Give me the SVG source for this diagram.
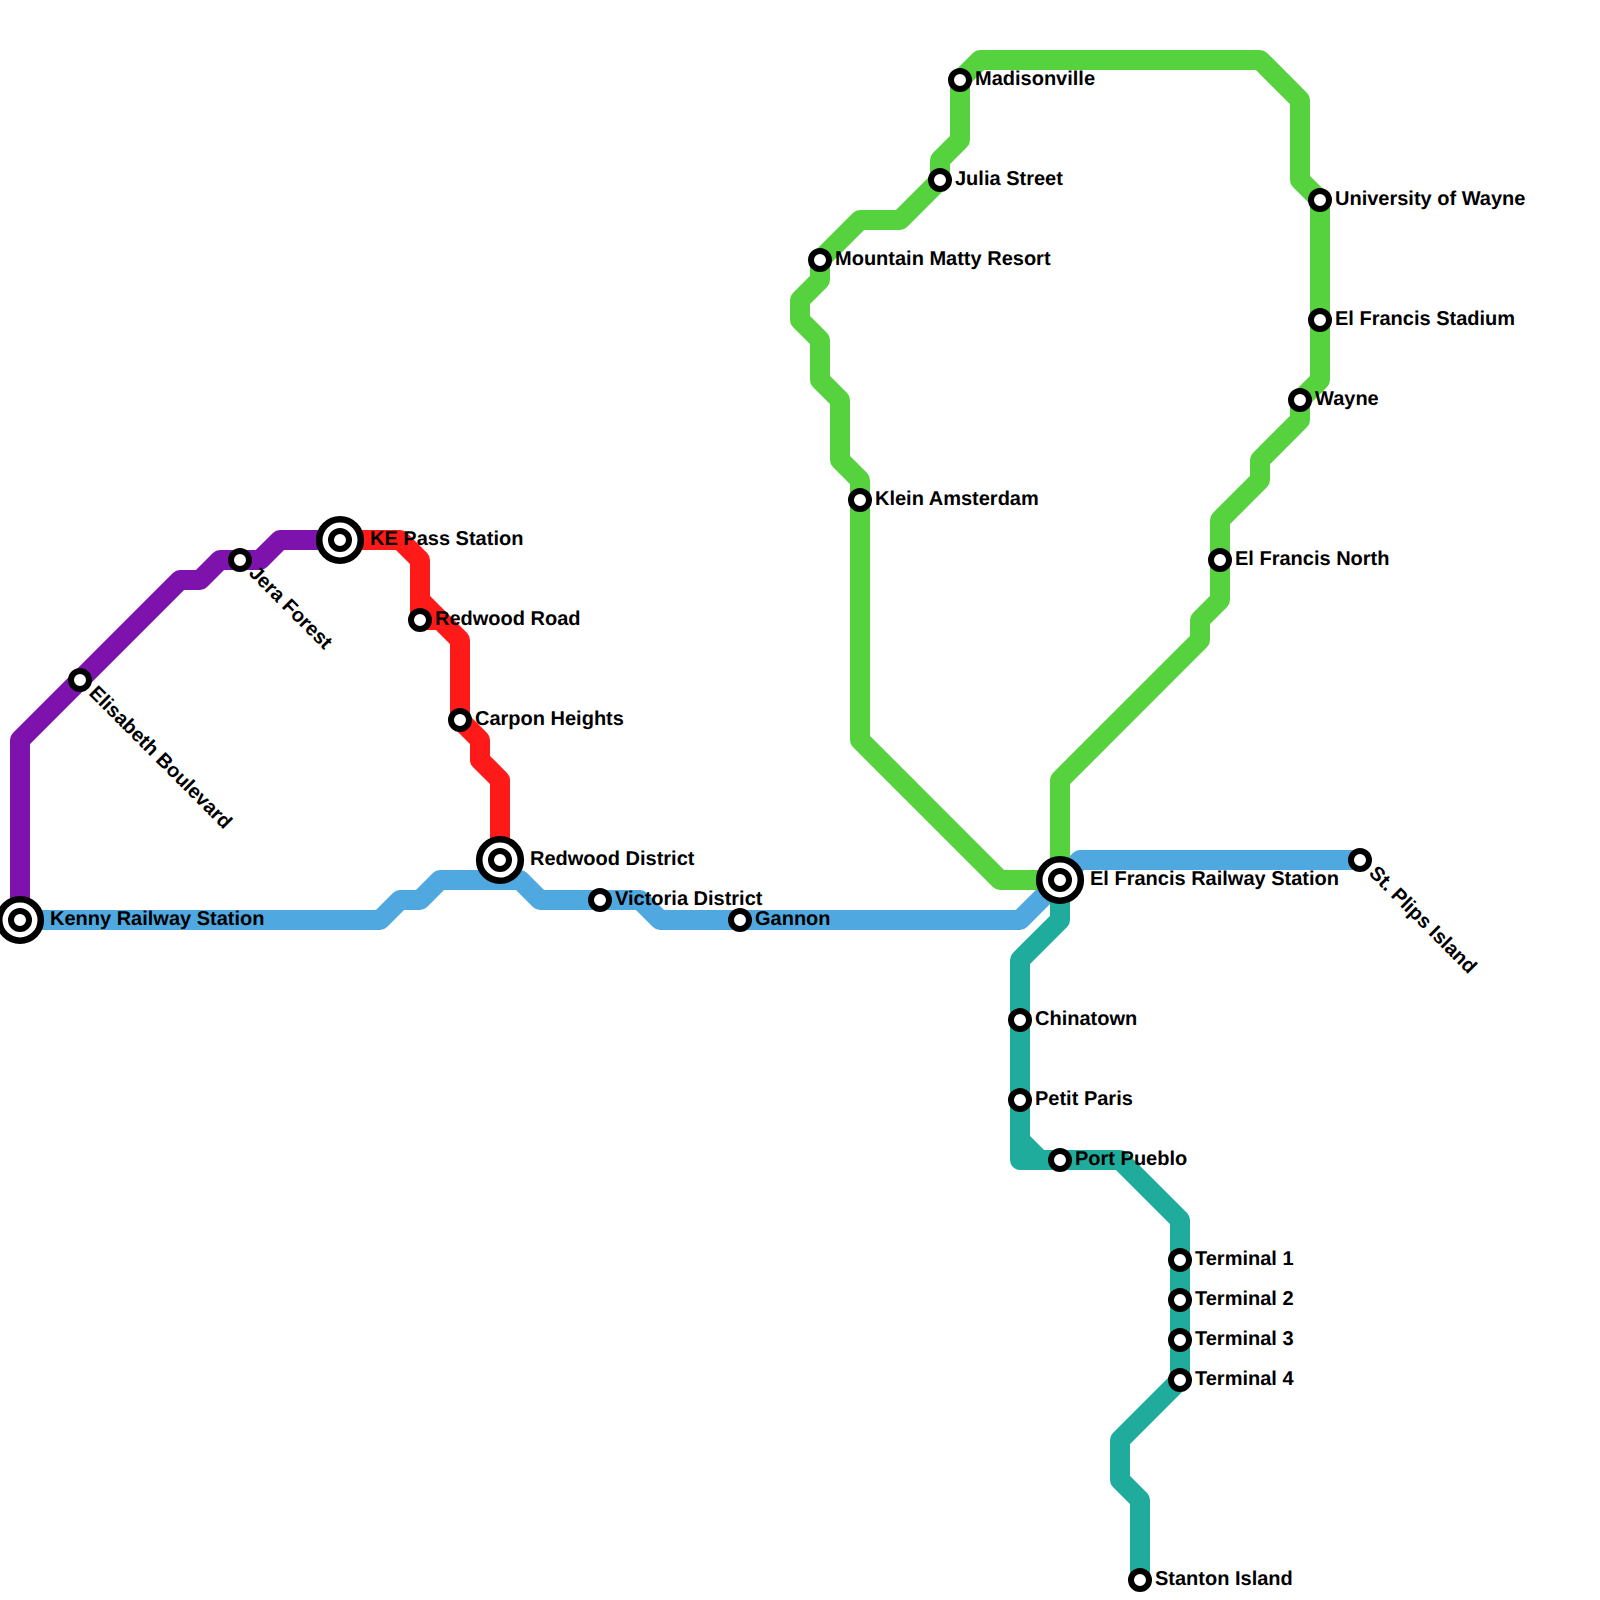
<svg xmlns="http://www.w3.org/2000/svg" width="1600" height="1600" viewBox="0 0 1600 1600">
<style>
.l{fill:none;stroke-width:20;stroke-linejoin:round;stroke-linecap:round}
.s{fill:#fff;stroke:#000;stroke-width:6}
.i{fill:#fff;stroke:#000;stroke-width:6.6}
text{font-family:"Liberation Sans",Arial,sans-serif;font-weight:700;font-size:20px;fill:#000;text-rendering:geometricPrecision}
</style>
<defs>
<g id="st"><circle class="s" r="9"/></g>
<g id="ic"><circle class="i" r="20.8"/><circle class="s" r="9"/></g>
</defs>
<rect width="1600" height="1600" fill="#fff"/>
<g id="connectors">
<path class="l" stroke="#7d12ad" d="M20,920V740L180,580H200L220,560H260L280,540H340"/>
<path class="l" stroke="#ff1a1a" d="M340,540H400L420,560V620H440M420,600L460,640V720L480,740V760L500,780V860"/>
<path class="l" stroke="#50a8e0" d="M20,920H380L400,900H420L440,880H520L540,900H640L660,920H1020L1060,880L1080,860H1360"/>
<path class="l" stroke="#56d23f" d="M1060,880H1000L860,740V480L840,460V400L820,380V340L800,320V300L820,280V260L860,220H900L940,180V160L960,140V80L980,60H1260L1300,100V180L1320,200V380L1300,400V420L1260,460V480L1220,520V600L1200,620V640L1060,780V880"/>
<path class="l" stroke="#20ac9c" d="M1060,880V920L1020,960V1160H1120L1180,1220V1380L1120,1440V1480L1140,1500V1580M1020,1140L1040,1160"/>
</g>
<g id="kenny"><use href="#ic" x="20" y="920"/><text x="50" y="925">Kenny Railway Station</text></g>
<g id="elisabeth"><use href="#st" x="80" y="680"/><text transform="translate(88,694) rotate(45)">Elisabeth Boulevard</text></g>
<g id="jera"><use href="#st" x="240" y="560"/><text transform="translate(248,574) rotate(45)">Jera Forest</text></g>
<g id="kepass"><use href="#ic" x="340" y="540"/><text x="370" y="545">KE Pass Station</text></g>
<g id="redwoodroad"><use href="#st" x="420" y="620"/><text x="435" y="625">Redwood Road</text></g>
<g id="carpon"><use href="#st" x="460" y="720"/><text x="475" y="725">Carpon Heights</text></g>
<g id="redwooddistrict"><use href="#ic" x="500" y="860"/><text x="530" y="865">Redwood District</text></g>
<g id="victoria"><use href="#st" x="600" y="900"/><text x="615" y="905">Victoria District</text></g>
<g id="gannon"><use href="#st" x="740" y="920"/><text x="755" y="925">Gannon</text></g>
<g id="elfrancisrs"><use href="#ic" x="1060" y="880"/><text x="1090" y="885">El Francis Railway Station</text></g>
<g id="stplips"><use href="#st" x="1360" y="860"/><text transform="translate(1368,874) rotate(45)">St. Plips Island</text></g>
<g id="chinatown"><use href="#st" x="1020" y="1020"/><text x="1035" y="1025">Chinatown</text></g>
<g id="petitparis"><use href="#st" x="1020" y="1100"/><text x="1035" y="1105">Petit Paris</text></g>
<g id="portpueblo"><use href="#st" x="1060" y="1160"/><text x="1075" y="1165">Port Pueblo</text></g>
<g id="t1"><use href="#st" x="1180" y="1260"/><text x="1195" y="1265">Terminal 1</text></g>
<g id="t2"><use href="#st" x="1180" y="1300"/><text x="1195" y="1305">Terminal 2</text></g>
<g id="t3"><use href="#st" x="1180" y="1340"/><text x="1195" y="1345">Terminal 3</text></g>
<g id="t4"><use href="#st" x="1180" y="1380"/><text x="1195" y="1385">Terminal 4</text></g>
<g id="stanton"><use href="#st" x="1140" y="1580"/><text x="1155" y="1585">Stanton Island</text></g>
<g id="madisonville"><use href="#st" x="960" y="80"/><text x="975" y="85">Madisonville</text></g>
<g id="julia"><use href="#st" x="940" y="180"/><text x="955" y="185">Julia Street</text></g>
<g id="mountain"><use href="#st" x="820" y="260"/><text x="835" y="265">Mountain Matty Resort</text></g>
<g id="klein"><use href="#st" x="860" y="500"/><text x="875" y="505">Klein Amsterdam</text></g>
<g id="elfrancisnorth"><use href="#st" x="1220" y="560"/><text x="1235" y="565">El Francis North</text></g>
<g id="wayne"><use href="#st" x="1300" y="400"/><text x="1315" y="405">Wayne</text></g>
<g id="stadium"><use href="#st" x="1320" y="320"/><text x="1335" y="325">El Francis Stadium</text></g>
<g id="university"><use href="#st" x="1320" y="200"/><text x="1335" y="205">University of Wayne</text></g>
</svg>
